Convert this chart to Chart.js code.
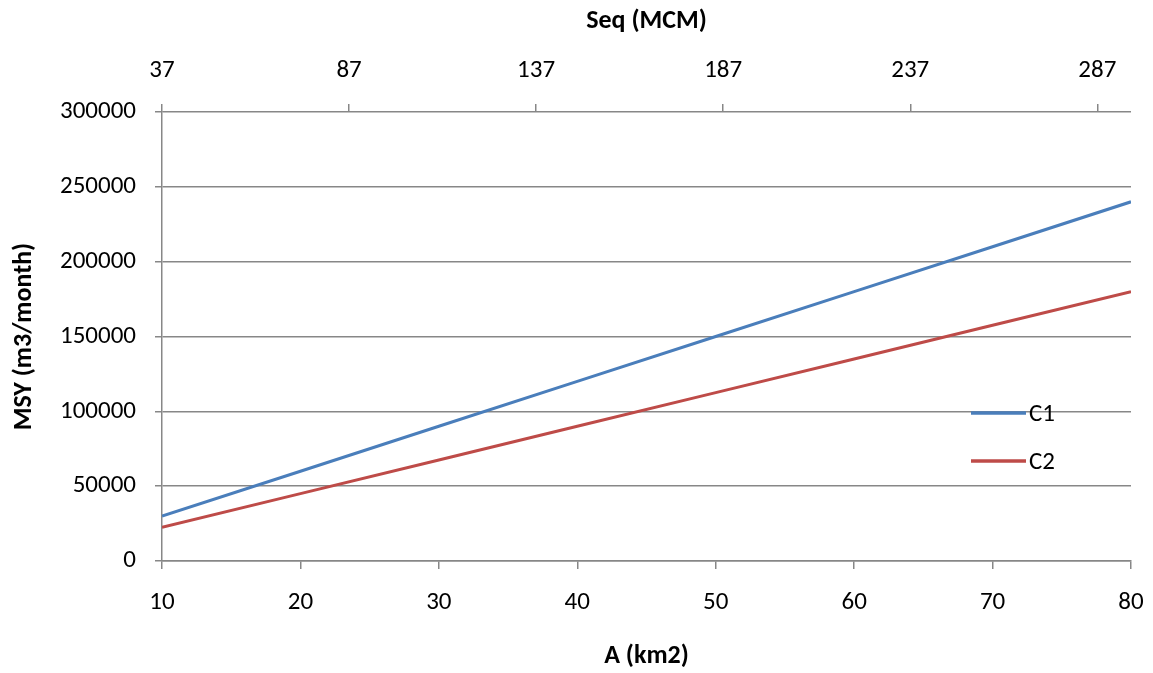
<!DOCTYPE html>
<html>
<head>
<meta charset="utf-8">
<script src="https://cdn.jsdelivr.net/npm/chart.js@4"></script>
<style>
    body { margin: 0; background: #fff; }
    #wrap { width: 1153px; height: 673px; position: relative; }
</style>
</head>
<body>
<div id="wrap"><canvas id="chart"></canvas></div>
<script>
// 数据
const areaKm2 = [10, 20, 30, 40, 50, 60, 70, 80];
const c1Values = [30000, 60000, 90000, 120000, 150000, 180000, 210000, 240000];
const c2Values = [22500, 45000, 67500, 90000, 112500, 135000, 157500, 180000];
const seqTicks = [37, 87, 137, 187, 237, 287];

const FONT = "Carlito, Lato, 'Liberation Sans', sans-serif";
const GRAY = '#878787';
const TICK_SIZE = 25;
const TITLE_SIZE = 26;

// 图例 (画在绘图区内)
const insideLegend = {
    id: 'insideLegend',
    afterDraw(chart) {
        const ctx = chart.ctx;
        const rows = [413, 461];
        ctx.save();
        chart.data.datasets.forEach((ds, i) => {
            const y = rows[i];
            ctx.strokeStyle = ds.borderColor;
            ctx.lineWidth = 3.5;
            ctx.beginPath();
            ctx.moveTo(971, y);
            ctx.lineTo(1026, y);
            ctx.stroke();
            ctx.fillStyle = '#000';
            ctx.font = `${TICK_SIZE}px ${FONT}`;
            ctx.textBaseline = 'middle';
            ctx.fillText(ds.label, 1029, y + 2);
        });
        ctx.restore();
    }
};

// 横轴不额外留边距
function fitHorizontal(scale) {
    scale.height = 112;
    scale.paddingLeft = 0;
    scale.paddingRight = 0;
}

const ctx = document.getElementById('chart').getContext('2d');
new Chart(ctx, {
    type: 'line',
    data: {
        datasets: [{
            label: 'C1',
            data: areaKm2.map((a, i) => ({ x: a, y: c1Values[i] })),
            borderColor: '#4A7EBB',
            borderWidth: 3,
            pointRadius: 0,
            xAxisID: 'x',
            yAxisID: 'y'
        }, {
            label: 'C2',
            data: areaKm2.map((a, i) => ({ x: a, y: c2Values[i] })),
            borderColor: '#BE4B48',
            borderWidth: 3,
            pointRadius: 0,
            xAxisID: 'x',
            yAxisID: 'y'
        }]
    },
    options: {
        responsive: true,
        maintainAspectRatio: false,
        animation: false,
        layout: { padding: { left: 0, right: 22, top: 0, bottom: 0 } },
        plugins: {
            legend: { display: false },
            tooltip: { enabled: false }
        },
        scales: {
            x: {
                type: 'linear',
                position: 'bottom',
                min: 10,
                max: 80,
                ticks: { stepSize: 10, color: '#000', font: { family: FONT, size: TICK_SIZE }, padding: 19, maxRotation: 0 },
                grid: { drawOnChartArea: false, color: GRAY, tickLength: 8, lineWidth: 1.5 },
                border: { color: GRAY, width: 1.5 },
                title: { display: true, text: 'A (km2)', color: '#000', font: { family: FONT, size: TITLE_SIZE, weight: 'bold' }, padding: { top: 0, bottom: 1 } },
                afterFit: fitHorizontal
            },
            x2: {
                type: 'linear',
                position: 'top',
                min: 37,
                max: 296,
                afterBuildTicks(scale) { scale.ticks = seqTicks.map(v => ({ value: v })); },
                ticks: { color: '#000', font: { family: FONT, size: TICK_SIZE }, padding: 18, maxRotation: 0 },
                grid: { drawOnChartArea: false, color: GRAY, tickLength: 8, lineWidth: 1.5 },
                border: { display: false },
                title: { display: true, text: 'Seq (MCM)', color: '#000', font: { family: FONT, size: TITLE_SIZE, weight: 'bold' }, padding: { top: 6, bottom: 0 } },
                afterFit: fitHorizontal
            },
            y: {
                type: 'linear',
                min: 0,
                max: 300000,
                ticks: {
                    stepSize: 50000, color: '#000', font: { family: FONT, size: TICK_SIZE }, padding: 19,
                    callback: v => String(v)
                },
                grid: { color: GRAY, tickLength: 7, lineWidth: 1.5 },
                border: { color: GRAY, width: 1.5 },
                title: { display: true, text: 'MSY (m3/month)', color: '#000', font: { family: FONT, size: TITLE_SIZE, weight: 'bold' }, padding: { top: 9, bottom: 0 } },
                afterFit(scale) { scale.width = 162; }
            }
        }
    },
    plugins: [insideLegend]
});
</script>
</body>
</html>
